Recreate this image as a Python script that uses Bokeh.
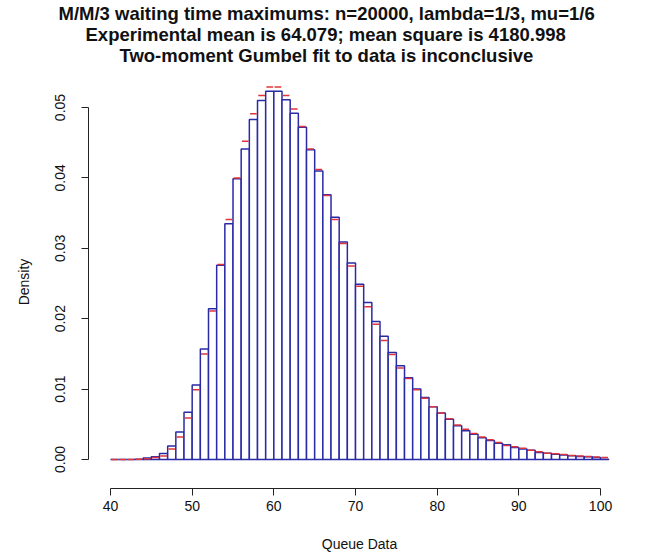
from bokeh.plotting import figure
from bokeh.models import Range1d, FixedTicker, Title, ColumnDataSource, PrintfTickFormatter
from bokeh.embed import file_html
from bokeh.resources import INLINE

# ---- data ----
bin_left = list(range(40, 101))
density = [
    0.0, 0.0, 0.0, 0.00005, 0.0002, 0.0004, 0.00085, 0.0019, 0.0039, 0.0067,
    0.0106, 0.0157, 0.0214, 0.0276, 0.0335, 0.0399, 0.0441, 0.0483, 0.0510, 0.0523,
    0.0523, 0.0511, 0.0492, 0.0472, 0.0440, 0.0410, 0.0376, 0.0344, 0.0309, 0.0279,
    0.0249, 0.0223, 0.0196, 0.0175, 0.0152, 0.0133, 0.0116, 0.0100, 0.0088, 0.0075,
    0.0066, 0.0057, 0.0048, 0.0041, 0.0036, 0.0031, 0.0027, 0.0023, 0.0021, 0.0017,
    0.0015, 0.0013, 0.0010, 0.0009, 0.00075, 0.00065, 0.00052, 0.00043, 0.00038, 0.00030,
    0.00005,
]
gumbel_fit = [
    0.0, 0.0, 0.0, 0.00003, 0.00012, 0.0003, 0.0005, 0.0015, 0.0032, 0.0059,
    0.0099, 0.0150, 0.0211, 0.0277, 0.0341, 0.0400, 0.0452, 0.0491, 0.0517, 0.0529,
    0.0529, 0.0517, 0.0498, 0.0473, 0.0441, 0.0412, 0.0375, 0.0341, 0.0307, 0.0275,
    0.0246, 0.0217, 0.0192, 0.0169, 0.0149, 0.0130, 0.0115, 0.0099, 0.0087, 0.0075,
    0.0066, 0.0058, 0.0049, 0.0043, 0.0037, 0.0032, 0.0028, 0.0024, 0.0020, 0.0018,
    0.0016, 0.0013, 0.0011, 0.0009, 0.0008, 0.0007, 0.00058, 0.0005, 0.00042, 0.00036,
    0.0003,
]
x_ticks = [40, 50, 60, 70, 80, 90, 100]
y_ticks = [0.0, 0.01, 0.02, 0.03, 0.04, 0.05]
title_lines = [
    "M/M/3 waiting time maximums: n=20000, lambda=1/3, mu=1/6",
    "Experimental mean is 64.079; mean square is 4180.998",
    "Two-moment Gumbel fit to data is inconclusive",
]
x_label = "Queue Data"
y_label = "Density"

BAR_BLUE = "#2a2aa6"
FIT_RED = "#e0343a"
FONT = "Liberation Sans"
# left offsets so that each title line is centred near x=326
TITLE_OFFSETS = [-30, -3, 31]

bin_width = 1.0
src = ColumnDataSource(dict(
    left=bin_left,
    right=[b + bin_width for b in bin_left],
    top=density,
    fit=gumbel_fit,
    fx0=[b + 0.09 for b in bin_left],
    fx1=[b + bin_width - 0.09 for b in bin_left],
))

p = figure(width=650, height=560, output_backend="svg", toolbar_location=None,
           x_range=Range1d(37.306, 103.67), y_range=Range1d(-0.00412, 0.05455),
           min_border_left=88, min_border_right=20, min_border_top=75,
           min_border_bottom=72)
p.outline_line_color = None
p.grid.visible = False
p.background_fill_color = "white"
p.title.visible = False

p.quad(left="left", right="right", top="top", bottom=0, source=src,
       fill_color="white", line_color=BAR_BLUE, line_width=1.5)
p.segment(x0="fx0", x1="fx1", y0="fit", y1="fit", source=src,
          line_color=FIT_RED, line_width=1.5)

for ax in (p.xaxis[0], p.yaxis[0]):
    ax.major_tick_out = 7
    ax.major_tick_in = 0
    ax.minor_tick_line_color = None
    ax.axis_line_color = "#222222"
    ax.major_tick_line_color = "#222222"
    ax.major_label_text_font = FONT
    ax.major_label_text_font_size = "14px"
    ax.major_label_text_color = "#111111"
    ax.axis_label_text_font = FONT
    ax.axis_label_text_font_size = "14px"
    ax.axis_label_text_font_style = "normal"
    ax.axis_label_text_color = "#111111"

p.xaxis.ticker = FixedTicker(ticks=x_ticks)
p.xaxis.bounds = (x_ticks[0], x_ticks[-1])
p.xaxis.major_label_standoff = 5
p.xaxis.axis_label = x_label
p.xaxis.axis_label_standoff = 22

p.yaxis.ticker = FixedTicker(ticks=y_ticks)
p.yaxis.bounds = (y_ticks[0], y_ticks[-1])
p.yaxis.formatter = PrintfTickFormatter(format="%.2f")
p.yaxis.major_label_orientation = "vertical"
p.yaxis.major_label_standoff = 16
p.yaxis.axis_label = y_label
p.yaxis.axis_label_standoff = 21

# spacer next to the frame, then title lines stacked outward (last line first)
p.add_layout(Title(text=" ", text_font_size="8px", standoff=0), "above")
for line, off in reversed(list(zip(title_lines, TITLE_OFFSETS))):
    p.add_layout(Title(text=line, align="left", offset=off, standoff=-2.5,
                       text_font=FONT, text_font_size="18.5px",
                       text_font_style="bold", text_color="#111111"), "above")

open("out.html", "w").write(file_html(p, INLINE))
